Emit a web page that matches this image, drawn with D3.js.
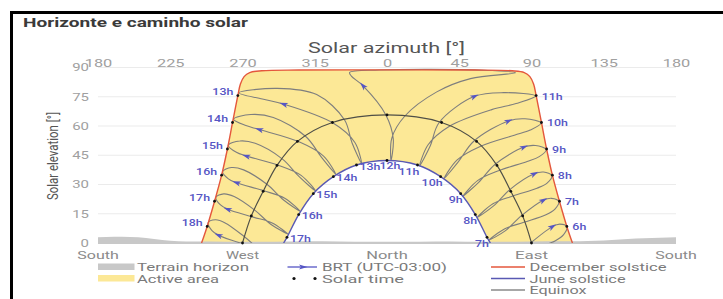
<!DOCTYPE html>
<html>
<head>
<meta charset="utf-8">
<script src="https://cdn.jsdelivr.net/npm/d3@7"></script>
<style>
  body { margin: 0; background: #fff; }
  svg { display: block; font-family: Roboto, "Noto Sans", sans-serif; }
</style>
</head>
<body>
<svg id="chart" width="723" height="299"></svg>
<script>
// ── data ─────────────────────────────────────────────
const azTicks = [-180, -135, -90, -45, 0, 45, 90, 135, 180];
const azTickLabels = ["180", "225", "270", "315", "0", "45", "90", "135", "180"];
const elTicks = [0, 15, 30, 45, 60, 75, 90];
const compassAz = [-180, -90, 0, 90, 180];
const compassLabels = ["South", "West", "North", "East", "South"];

// terrain horizon (azimuth relative to north, elevation)
const terrainAz = [-180, -170, -160, -150, -140, -130, -120, -100, -80, -60, -40, -20, 0, 20, 40, 60, 80, 100, 120, 130, 140, 150, 160, 170, 180];
const terrainEl = [2.9, 3.2, 3.1, 2.6, 1.5, 0.9, 0.8, 0.7, 0.6, 0.8, 0.9, 0.7, 0.6, 0.7, 0.8, 0.6, 0.7, 0.9, 0.9, 1.1, 1.5, 2.0, 2.4, 2.7, 2.9];

// December solstice path
const decAz = [-115.5, -112, -107.4, -103, -99.4, -96.2, -92.9, -91.3, -89, -85.5, -78, -55, 0, 55, 78, 85.5, 89, 91.3, 92.9, 96.2, 99.4, 103, 107.4, 112, 115.5];
const decEl = [0, 8.5, 21.4, 34.8, 48.2, 61.8, 75.6, 81.5, 85.3, 87.4, 88.3, 88.7, 88.8, 88.7, 88.3, 87.4, 85.3, 81.5, 75.6, 61.8, 48.2, 34.8, 21.4, 8.5, 0];
// solar hours on it
const decHourLabels = ["18h", "17h", "16h", "15h", "14h", "13h", "11h", "10h", "9h", "8h", "7h", "6h"];
const decHourAz = [-112, -107.4, -103, -99.4, -96.2, -92.9, 92.9, 96.2, 99.4, 103, 107.4, 112];
const decHourEl = [8.5, 21.4, 34.8, 48.2, 61.8, 75.6, 75.6, 61.8, 48.2, 34.8, 21.4, 8.5];

// June solstice path (solar hours 17h..7h between sunset and sunrise)
const juneAz = [-64.4, -62.3, -55, -45.9, -33.4, -19, 0, 19, 33.4, 45.9, 55, 62.3, 64.4];
const juneEl = [0, 2.9, 14.6, 25.3, 34, 40, 42.3, 40, 34, 25.3, 14.6, 2.9, 0];
const juneHourLabels = ["", "17h", "16h", "15h", "14h", "13h", "12h", "11h", "10h", "9h", "8h", "7h", ""];

// Equinox path (18h..6h)
const equinoxAz = [-90, -84.5, -77.1, -68.5, -55.8, -34, 0, 34, 55.8, 68.5, 77.1, 84.5, 90];
const equinoxEl = [0, 13.9, 26.5, 39.8, 52.1, 61.8, 65.7, 61.8, 52.1, 39.8, 26.5, 13.9, 0];

// BRT clock-hour loops over the year
// points: Dec21, Jan21, Feb11, Mar21, Apr21, Jun21, Aug21, Sep23, Nov3, Nov21
// (12h has extra points near zenith: Dec21, Jan1, Jan21, Feb11, Mar21, Apr21, Jun21, Aug21, Sep23, Nov3, Nov21, Dec1, Dec11)
const brtHours = ["6h", "7h", "8h", "9h", "10h", "11h", "12h", "13h", "14h", "15h", "16h", "17h", "18h"];
const brtAz = [
  [112.0, 110.0, 104.9, 91.4, 79.6, 69.1, 79.8, 89.9, 103.0, 107.6],
  [107.0, 104.6, 99.0, 85.2, 73.4, 63.4, 73.6, 83.6, 97.4, 102.4],
  [102.7, 99.7, 93.4, 78.4, 66.0, 56.3, 66.4, 76.5, 91.8, 97.5],
  [99.2, 94.8, 87.3, 69.9, 56.6, 47.3, 57.1, 67.4, 85.3, 92.5],
  [95.9, 89.2, 79.3, 58.0, 43.7, 35.5, 44.5, 54.2, 75.7, 86.0],
  [92.5, 80.4, 65.2, 38.9, 25.6, 20.3, 26.9, 32.5, 54.5, 72.7],
  [60, 80, 52, 31, 11, 3, 2.5, 3.9, -0.7, -14.9, -22.2, -23.3, -4.8],
  [-92.4, -68.4, -43.8, -26.5, -21.8, -15.8, -20.0, -33.6, -64.3, -77.6],
  [-95.6, -84.8, -70.8, -50.6, -41.0, -31.8, -39.5, -54.8, -79.5, -87.9],
  [-98.9, -91.7, -82.1, -65.1, -54.7, -44.4, -53.5, -67.8, -87.6, -93.8],
  [-102.4, -96.9, -89.3, -74.8, -64.6, -54.1, -63.7, -76.8, -93.7, -98.8],
  [-106.6, -101.7, -95.2, -82.2, -72.2, -61.7, -71.5, -83.8, -99.2, -103.7],
  [-111.4, -106.8, -100.8, -88.6, -78.6, -67.7, -77.9, -90.1, -104.9, -109.0]
];
const brtEl = [
  [8.4, 4.3, 1.2, -3.1, -6.0, -11.1, -7.1, 0.3, 8.4, 9.7],
  [21.3, 17.4, 14.5, 10.6, 7.3, 1.4, 6.2, 13.9, 21.9, 22.9],
  [34.5, 30.7, 28.1, 24.1, 20.1, 13.2, 19.0, 27.4, 35.5, 36.4],
  [47.9, 44.3, 41.8, 37.2, 32.1, 24.0, 31.1, 40.4, 49.2, 50.0],
  [61.5, 57.9, 55.3, 49.5, 42.6, 33.0, 41.7, 52.3, 62.6, 63.7],
  [75.4, 71.5, 68.4, 59.9, 50.4, 39.5, 49.7, 61.8, 75.2, 77.1],
  [88.6, 87.3, 84.3, 77.5, 65, 53.8, 42.2, 53.4, 65.7, 80.6, 85.6, 87.4, 88.7],
  [77.0, 79.3, 76.1, 63.2, 51.4, 40.6, 51.5, 61.5, 71.2, 73.8],
  [63.5, 65.9, 64.4, 54.6, 44.2, 35.1, 44.6, 51.9, 58.2, 60.2],
  [50.1, 52.3, 51.1, 43.0, 34.0, 26.6, 34.7, 39.9, 44.6, 46.5],
  [36.6, 38.7, 37.5, 30.1, 22.2, 16.2, 23.0, 26.8, 30.9, 32.9],
  [23.4, 25.2, 23.8, 16.7, 9.5, 4.6, 10.3, 13.4, 17.3, 19.5],
  [10.4, 11.9, 10.3, 3.1, -3.7, -7.7, -2.8, -0.3, 4.0, 6.4]
];
const brtArrowAt = [8, 8, 8, 8, 8, 8, 9, 8, 8, 8, 8, 8, 8];

// ── colours ──────────────────────────────────────────
const C = {
  active: "#fce896",
  terrain: "#c8c8c8",
  grid: "#ebebeb",
  tick: "#a0a0a0",
  title: "#555",
  dec: "#e4573d",
  june: "#5959b3",
  equinox: "#4f4f47",
  loop: "#7e7e7e",
  brt: "#5656c4",
  legend: "#7a7a7a"
};

// ── setup ────────────────────────────────────────────
const svg = d3.select("#chart");
const x = d3.scaleLinear().domain([-180, 180]).range([98, 676]);
const y = d3.scaleLinear().domain([0, 90]).range([243, 67.5]);
const zip = (a, b) => a.map((v, i) => [x(v), y(b[i])]);

svg.append("rect").attr("width", 723).attr("height", 299).attr("fill", "#fff");
svg.append("rect")
  .attr("x", 11.5).attr("y", 12.5).attr("width", 740).attr("height", 320)
  .attr("fill", "none").attr("stroke", "#000").attr("stroke-width", 3);

svg.append("text")
  .attr("x", 23).attr("y", 26.5)
  .attr("font-size", 12).attr("font-weight", 700).attr("fill", "#3a3a3a")
  .attr("textLength", 225).attr("lengthAdjust", "spacingAndGlyphs")
  .text("Horizonte e caminho solar");

svg.append("defs").append("clipPath").attr("id", "plot-clip")
  .append("rect").attr("x", 98).attr("y", 60).attr("width", 578).attr("height", 183);

// grid
svg.append("g").selectAll("line").data(elTicks).join("line")
  .attr("x1", 98).attr("x2", 676)
  .attr("y1", d => y(d)).attr("y2", d => y(d))
  .attr("stroke", C.grid).attr("stroke-width", 1);

// axes
const topAxis = svg.append("g").attr("transform", `translate(0,${y(90)})`)
  .call(d3.axisTop(x).tickValues(azTicks).tickSize(0).tickPadding(1)
    .tickFormat((d, i) => azTickLabels[i]));
topAxis.select(".domain").remove();
topAxis.selectAll("text")
  .attr("fill", C.tick).attr("font-size", 10.5).attr("font-family", "Roboto")
  .attr("textLength", (d, i) => azTickLabels[i].length * 9.2)
  .attr("lengthAdjust", "spacingAndGlyphs");

const leftAxis = svg.append("g").attr("transform", "translate(89,0)")
  .call(d3.axisLeft(y).tickValues(elTicks).tickSize(0).tickPadding(0));
leftAxis.select(".domain").remove();
leftAxis.selectAll("text")
  .attr("fill", C.tick).attr("font-size", 10.5).attr("font-family", "Roboto")
  .attr("textLength", d => String(d).length * 8.4)
  .attr("lengthAdjust", "spacingAndGlyphs");

svg.append("text")
  .attr("x", 386.5).attr("y", 53.3).attr("text-anchor", "middle")
  .attr("font-size", 14).attr("fill", C.title)
  .attr("textLength", 157).attr("lengthAdjust", "spacingAndGlyphs")
  .text("Solar azimuth [°]");

svg.append("text")
  .attr("transform", "translate(58,156) rotate(-90)")
  .attr("text-anchor", "middle")
  .attr("font-size", 15).attr("fill", C.title)
  .attr("textLength", 88).attr("lengthAdjust", "spacingAndGlyphs")
  .text("Solar elevation [°]");

svg.append("g").selectAll("text").data(compassAz).join("text")
  .attr("x", d => x(d)).attr("y", 259).attr("text-anchor", "middle")
  .attr("font-size", 10.5).attr("fill", "#8a8a8a")
  .attr("textLength", (d, i) => compassLabels[i].length * 8.3)
  .attr("lengthAdjust", "spacingAndGlyphs")
  .text((d, i) => compassLabels[i]);

// ── active area ──────────────────────────────────────
const smooth = d3.line().curve(d3.curveCatmullRom.alpha(0.5));
const decPts = zip(decAz, decEl);
const junePts = zip(juneAz, juneEl);
svg.append("path")
  .attr("d", smooth(decPts) + smooth(junePts.slice().reverse()).replace(/^M/, "L") + "Z")
  .attr("fill", C.active);

// terrain
const terrain = d3.area()
  .x(d => x(d[0])).y0(y(0) + 1).y1(d => y(d[1]))
  .curve(d3.curveMonotoneX);
svg.append("path")
  .datum(terrainAz.map((a, i) => [a, terrainEl[i]]))
  .attr("d", terrain).attr("fill", C.terrain);

// ── BRT loops ────────────────────────────────────────
const plot = svg.append("g").attr("clip-path", "url(#plot-clip)");
const loopLine = d3.line().curve(d3.curveCatmullRomClosed.alpha(0.5));
const loops = brtAz.map((az, i) => zip(az, brtEl[i]));

plot.append("g").selectAll("path").data(loops).join("path")
  .attr("d", loopLine)
  .attr("fill", "none").attr("stroke", C.loop).attr("stroke-width", 1.1);

// equinox + solstices
plot.append("path").attr("d", smooth(zip(equinoxAz, equinoxEl)))
  .attr("fill", "none").attr("stroke", C.equinox).attr("stroke-width", 1.2);
plot.append("path").attr("d", smooth(decPts))
  .attr("fill", "none").attr("stroke", C.dec).attr("stroke-width", 1.4);
plot.append("path").attr("d", smooth(junePts))
  .attr("fill", "none").attr("stroke", C.june).attr("stroke-width", 1.4);

// arrows on loops
const dart = "M4.5,0L-4,-2.6L-2,0L-4,2.6Z";
loops.forEach((pts, i) => {
  const k = brtArrowAt[i];
  const n = pts.length;
  const a = pts[(k - 1 + n) % n], b = pts[(k + 1) % n], p = pts[k];
  const ang = Math.atan2(b[1] - a[1], b[0] - a[0]) * 180 / Math.PI;
  plot.append("path").attr("d", dart)
    .attr("transform", `translate(${p[0]},${p[1]}) rotate(${ang})`)
    .attr("fill", C.brt);
});

// solar time dots
const dots = [].concat(
  zip(decHourAz, decHourEl),
  junePts.slice(1, -1),
  zip(equinoxAz, equinoxEl)
);
svg.append("g").selectAll("circle").data(dots).join("circle")
  .attr("cx", d => d[0]).attr("cy", d => d[1]).attr("r", 1.4).attr("fill", "#111");

// hour labels
const hourText = (g, px, py, anchor, label) => g.append("text")
  .attr("x", px).attr("y", py).attr("text-anchor", anchor)
  .attr("font-size", 9.5).attr("font-weight", 500).attr("fill", C.brt)
  .attr("textLength", label.length * 7).attr("lengthAdjust", "spacingAndGlyphs")
  .text(label);

const labels = svg.append("g");
decHourAz.forEach((az, i) => {
  const px = x(az), py = y(decHourEl[i]);
  if (az < 0) hourText(labels, px - 4.5, py - 0.5, "end", decHourLabels[i]);
  else hourText(labels, px + 5.5, py + 4, "start", decHourLabels[i]);
});
juneAz.forEach((az, i) => {
  const lab = juneHourLabels[i];
  if (!lab) return;
  const px = x(az), py = y(juneEl[i]);
  if (az > 0) hourText(labels, px + 2, py + 9.5, "end", lab);
  else if (az < 0) hourText(labels, px + 3, py + 4.5, "start", lab);
  else hourText(labels, px + 3, py + 8, "middle", lab);
});

// ── legend ───────────────────────────────────────────
const lg = svg.append("g").attr("font-size", 11).attr("fill", C.legend);
const rows = [271, 282.5, 294];
const legText = (tx, ty, s, w) => lg.append("text").attr("x", tx).attr("y", ty)
  .attr("textLength", w).attr("lengthAdjust", "spacingAndGlyphs").text(s);

lg.append("rect").attr("x", 98).attr("y", rows[0] - 7.5).attr("width", 36.5).attr("height", 6.5).attr("fill", C.terrain);
legText(137, rows[0], "Terrain horizon", 112);
lg.append("rect").attr("x", 98).attr("y", rows[1] - 7.5).attr("width", 36.5).attr("height", 6.5).attr("fill", C.active);
legText(137, rows[1], "Active area", 82);

lg.append("line").attr("x1", 287.5).attr("x2", 317).attr("y1", rows[0] - 4).attr("y2", rows[0] - 4)
  .attr("stroke", C.brt).attr("stroke-width", 1.3);
lg.append("path").attr("d", dart).attr("transform", `translate(303,${rows[0] - 4})`).attr("fill", C.brt);
legText(322, rows[0], "BRT (UTC-03:00)", 125);
[294, 315].forEach(cx => lg.append("circle").attr("cx", cx).attr("cy", rows[1] - 4).attr("r", 1.6).attr("fill", "#111"));
legText(322, rows[1], "Solar time", 82);

[[C.dec, "December solstice", 137], [C.june, "June solstice", 96], ["#8a8a8a", "Equinox", 57]].forEach((d, i) => {
  lg.append("line").attr("x1", 491).attr("x2", 525).attr("y1", rows[i] - 4).attr("y2", rows[i] - 4)
    .attr("stroke", d[0]).attr("stroke-width", 1.3);
  legText(529.5, rows[i], d[1], d[2]);
});
</script>
</body>
</html>
